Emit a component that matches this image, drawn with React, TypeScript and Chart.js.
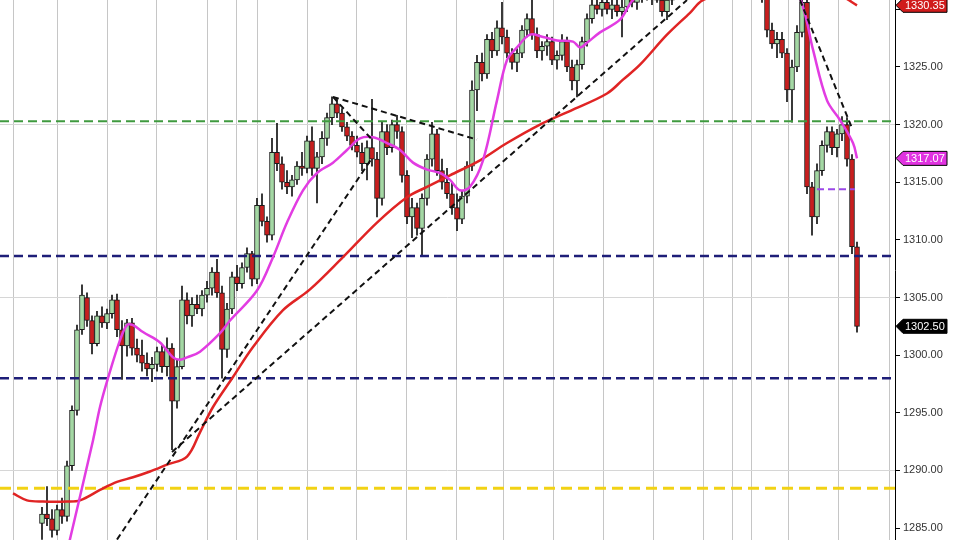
import React, { useEffect, useRef } from "react";
import { Chart, registerables } from "chart.js";

Chart.register(...registerables);

// ---- price candles (index = bar number) ----
const opens = [
  1285.4, 1286.2, 1285.8, 1284.8, 1286.6, 1286.0, 1290.4, 1295.2, 1302.2, 1305.0,
  1303.0, 1301.0, 1303.4, 1302.8, 1303.6, 1304.8, 1302.2, 1300.8, 1302.8, 1300.6,
  1300.0, 1299.3, 1298.8, 1299.2, 1300.3, 1299.0, 1300.6, 1296.0, 1299.0, 1304.8,
  1303.4, 1304.4, 1304.0, 1305.2, 1305.8, 1307.2, 1305.4, 1300.5, 1304.0, 1306.8,
  1306.2, 1307.6, 1308.8, 1306.6, 1313.0, 1311.6, 1310.4, 1317.6, 1316.6, 1315.0,
  1314.6, 1315.2, 1316.4, 1316.2, 1318.6, 1316.2, 1317.2, 1318.8, 1320.6, 1321.8,
  1321.0, 1319.8, 1319.0, 1318.2, 1317.6, 1316.6, 1318.0, 1317.0, 1313.6, 1319.4,
  1318.0, 1320.0, 1319.4, 1315.6, 1312.0, 1312.8, 1311.0, 1313.6, 1317.0, 1319.2,
  1316.0, 1315.0, 1314.0, 1312.8, 1311.8, 1313.8, 1316.4, 1323.0, 1325.4, 1324.4,
  1327.4, 1326.4, 1328.4, 1327.6, 1326.2, 1325.4, 1326.2, 1328.2, 1329.2, 1327.8,
  1326.4, 1326.8, 1327.2, 1325.6, 1326.0, 1327.2, 1325.0, 1323.8, 1325.2, 1327.2,
  1329.2, 1330.4, 1330.0, 1330.6, 1330.0, 1330.4, 1329.8, 1330.2, 1331.2, 1330.6,
  1331.2, 1331.6, 1331.0, 1331.4, 1330.8, 1329.8, 1330.8, 1332.0, 1332.6, 1332.2,
  1333.2, 1333.8, 1333.4, 1334.4, 1334.8, 1334.2, 1334.6, 1335.0, 1334.6, 1334.0,
  1333.2, 1332.6, 1332.0, 1332.4, 1331.8, 1331.0, 1328.2, 1327.0, 1327.4, 1326.2,
  1323.0, 1325.0, 1328.0, 1330.6, 1314.6, 1312.0, 1316.0, 1318.2, 1319.4, 1318.0,
  1319.2, 1320.0, 1317.0, 1309.4,
];
const highs = [
  1286.8, 1288.6, 1286.6, 1287.0, 1287.6, 1290.8, 1295.6, 1302.6, 1306.1, 1305.4,
  1303.4, 1303.8, 1304.2, 1304.0, 1305.2, 1305.3, 1303.0, 1303.1, 1303.2, 1301.4,
  1301.3, 1300.2, 1299.8, 1300.7, 1300.9, 1301.5, 1301.0, 1299.6, 1306.0, 1305.4,
  1305.0, 1305.2, 1305.6, 1306.4, 1307.6, 1308.3, 1306.0, 1304.5, 1307.2, 1307.8,
  1308.0, 1309.3, 1309.0, 1313.6, 1314.0, 1312.0, 1318.8, 1320.1, 1317.2, 1316.0,
  1315.6, 1316.8, 1317.6, 1319.0, 1319.8, 1317.6, 1319.4, 1321.0, 1322.4, 1322.3,
  1321.4, 1320.2, 1319.4, 1319.0, 1318.4, 1318.6, 1322.2, 1317.6, 1320.2, 1320.0,
  1320.4, 1320.8, 1319.8, 1316.0, 1313.6, 1313.2, 1314.0, 1317.4, 1320.2, 1319.6,
  1317.0, 1316.2, 1315.0, 1314.0, 1314.2, 1316.8, 1323.8, 1326.0, 1326.2, 1327.8,
  1328.0, 1329.0, 1330.6, 1328.2, 1326.6, 1326.6, 1328.6, 1329.6, 1330.8, 1328.4,
  1327.2, 1327.8, 1327.6, 1326.4, 1327.8, 1327.6, 1325.6, 1325.6, 1327.6, 1329.6,
  1330.9, 1331.2, 1331.0, 1331.4, 1331.0, 1331.2, 1330.8, 1331.6, 1332.0, 1331.6,
  1332.0, 1332.2, 1331.8, 1332.0, 1331.4, 1331.2, 1332.4, 1333.0, 1333.4, 1333.6,
  1334.2, 1334.4, 1334.8, 1335.2, 1335.4, 1335.0, 1335.6, 1335.8, 1335.2, 1334.6,
  1334.0, 1333.4, 1332.8, 1333.0, 1332.6, 1331.4, 1328.8, 1328.0, 1328.0, 1326.6,
  1325.6, 1328.6, 1331.2, 1331.0, 1315.0, 1316.6, 1318.6, 1319.8, 1319.8, 1319.6,
  1320.7, 1320.6, 1317.4, 1309.8,
];
const lows = [
  1284.0, 1285.2, 1284.2, 1284.4, 1285.4, 1285.6, 1290.0, 1294.8, 1301.8, 1302.5,
  1300.1, 1300.8, 1302.4, 1302.3, 1303.2, 1301.6, 1297.9, 1299.9, 1300.0, 1299.4,
  1298.6, 1298.2, 1297.7, 1298.6, 1298.5, 1298.2, 1291.8, 1295.4, 1298.8, 1302.7,
  1302.5, 1303.6, 1303.4, 1304.6, 1305.2, 1305.0, 1298.0, 1299.8, 1303.6, 1305.6,
  1305.8, 1307.2, 1306.0, 1306.2, 1311.2, 1309.8, 1310.0, 1316.0, 1314.4, 1314.0,
  1313.8, 1314.8, 1315.6, 1315.8, 1315.6, 1313.2, 1316.6, 1318.2, 1320.0, 1320.6,
  1319.4, 1318.6, 1317.8, 1317.2, 1316.0, 1315.2, 1316.4, 1312.0, 1313.0, 1317.4,
  1317.6, 1318.8, 1315.0, 1311.4, 1310.2, 1310.4, 1308.6, 1313.0, 1316.4, 1315.6,
  1314.4, 1313.6, 1312.2, 1310.8, 1311.4, 1313.2, 1316.0, 1321.2, 1323.8, 1324.0,
  1325.8, 1326.0, 1327.0, 1325.8, 1324.8, 1324.6, 1325.8, 1327.6, 1327.4, 1325.8,
  1325.6, 1326.0, 1325.2, 1324.8, 1325.6, 1324.6, 1323.0, 1322.4, 1324.8, 1326.8,
  1328.8, 1329.6, 1329.4, 1329.6, 1329.2, 1329.4, 1327.6, 1329.8, 1330.2, 1330.0,
  1330.6, 1330.8, 1330.4, 1330.6, 1329.4, 1329.1, 1330.4, 1331.4, 1332.0, 1331.8,
  1332.8, 1333.0, 1333.0, 1333.8, 1334.0, 1333.6, 1334.0, 1334.2, 1333.6, 1332.8,
  1332.2, 1331.6, 1331.4, 1331.6, 1330.6, 1327.6, 1326.6, 1325.8, 1325.8, 1322.0,
  1320.2, 1324.6, 1327.6, 1314.0, 1310.4, 1311.4, 1315.6, 1317.6, 1317.4, 1317.2,
  1318.6, 1316.4, 1308.8, 1302.0,
];
const closes = [
  1286.2, 1285.8, 1284.8, 1286.6, 1286.0, 1290.4, 1295.2, 1302.2, 1305.2, 1303.0,
  1301.0, 1303.4, 1302.8, 1303.6, 1304.8, 1302.2, 1300.8, 1302.8, 1300.6, 1300.0,
  1299.3, 1298.8, 1299.2, 1300.3, 1299.0, 1300.6, 1296.0, 1299.0, 1304.8, 1303.4,
  1304.4, 1304.0, 1305.2, 1305.8, 1307.2, 1305.4, 1300.5, 1304.0, 1306.8, 1306.2,
  1307.6, 1308.8, 1306.6, 1313.0, 1311.6, 1310.4, 1317.6, 1316.6, 1315.0, 1314.6,
  1315.2, 1316.4, 1316.2, 1318.6, 1316.2, 1317.2, 1318.8, 1320.6, 1321.8, 1321.0,
  1319.8, 1319.0, 1318.2, 1317.6, 1316.6, 1318.0, 1317.0, 1313.6, 1319.4, 1318.0,
  1320.0, 1319.4, 1315.6, 1312.0, 1312.8, 1311.0, 1313.6, 1317.0, 1319.2, 1316.0,
  1315.0, 1314.0, 1312.8, 1311.8, 1313.8, 1316.4, 1323.0, 1325.4, 1324.4, 1327.4,
  1326.4, 1328.4, 1327.6, 1326.2, 1325.4, 1326.2, 1328.2, 1329.2, 1327.8, 1326.4,
  1326.8, 1327.2, 1325.6, 1326.0, 1327.2, 1325.0, 1323.8, 1325.2, 1327.2, 1329.2,
  1330.4, 1330.0, 1330.6, 1330.0, 1330.4, 1329.8, 1330.2, 1331.2, 1330.6, 1331.2,
  1331.6, 1331.0, 1331.4, 1330.8, 1329.8, 1330.8, 1332.0, 1332.6, 1332.2, 1333.2,
  1333.8, 1333.4, 1334.4, 1334.8, 1334.2, 1334.6, 1335.0, 1334.6, 1334.0, 1333.2,
  1332.6, 1332.0, 1332.4, 1331.8, 1331.0, 1328.2, 1327.0, 1327.4, 1326.2, 1323.0,
  1325.0, 1328.0, 1330.6, 1314.6, 1312.0, 1316.0, 1318.2, 1319.4, 1318.0, 1319.2,
  1320.0, 1317.0, 1309.4, 1302.5,
];

// ---- fast moving average (magenta) ----
const fastMaX = [5.2, 10.2, 11.6, 13.2, 15.6, 17, 18.2, 20.2, 23.6, 26.2, 27.6, 29, 31.6, 35.6, 37.6, 43, 46.2, 49, 52.2, 55, 58.2, 61, 63.6, 66.2, 69, 71.6, 74.2, 77, 79.6, 81.6, 83.6, 85.6, 88.2, 91, 93, 95, 97.6, 100.2, 103, 106.2, 107.6, 109, 111.6, 115.6, 118.2, 123.6, 131.6, 141.6, 149.6, 152.2, 154.2, 157, 159.6, 162.2, 163];
const fastMaY = [1283.3, 1292.6, 1295.5, 1298.0, 1301.3, 1302.6, 1302.6, 1302.0, 1301.1, 1299.8, 1299.6, 1299.8, 1300.3, 1301.9, 1303.0, 1305.6, 1308.5, 1311.5, 1314.3, 1315.8, 1316.7, 1317.8, 1318.8, 1318.9, 1318.4, 1317.8, 1316.7, 1316.1, 1315.8, 1315.2, 1314.3, 1314.6, 1316.9, 1322.1, 1325.6, 1326.7, 1327.8, 1327.6, 1327.3, 1327.2, 1326.7, 1327.1, 1328.0, 1329.1, 1330.8, 1332.5, 1334.3, 1334.3, 1332.5, 1330.2, 1326.5, 1322.1, 1320.4, 1318.4, 1317.07];

// ---- slow moving average (red) ----
const slowMaX = [-5.8, -3, 0.2, 5, 7.6, 11.6, 15, 18.2, 21.6, 25, 29, 31.6, 34.2, 38.2, 42.2, 48.2, 53.6, 60.2, 67, 73, 77, 81.6, 87.6, 93, 99.6, 106.2, 113, 116.2, 119.6, 125, 129.6, 132.2, 141.6, 151.6, 159.6, 163];
const slowMaY = [1288.0, 1287.4, 1287.3, 1287.3, 1287.4, 1288.3, 1289.0, 1289.4, 1289.9, 1290.5, 1291.2, 1293.3, 1295.5, 1298.1, 1300.7, 1303.9, 1305.7, 1308.5, 1311.5, 1313.7, 1314.6, 1315.6, 1316.9, 1318.4, 1320.0, 1321.3, 1322.7, 1323.9, 1325.2, 1327.8, 1329.7, 1330.8, 1332.1, 1332.1, 1331.2, 1330.35];

// ---- drawn trendlines: [x1, y1, x2, y2] ----
const trendLines = [
  [58.2, 1322.4, 87, 1318.7],
  [58.2, 1322.4, 66, 1318.7],
  [15, 1284.0, 66, 1317.1],
  [26, 1291.6, 129, 1330.8],
  [151.6, 1330.8, 162, 1319.7],
];

// ---- horizontal levels ----
const levelValues = [1320.3, 1308.6, 1298.0, 1288.45];
const levelColors = ["#3f9a3f", "#1e1e78", "#1e1e78", "#f2d214"];
const levelWidths = [2, 2.5, 2.5, 3];
const shortLevel = [155, 162.6, 1314.4];

// ---- price tags ----
const tagValues = [1330.35, 1317.07, 1302.5];
const tagBg = ["#d01c1c", "#e032e0", "#000000"];

const yTicks = [1285, 1290, 1295, 1300, 1305, 1310, 1315, 1320, 1325, 1330];
const yGridValues = [1290, 1305, 1320];
const xGrid = [-5.8, 3, 13, 23, 33, 38.8, 43, 53, 62.8, 72.8, 82.8, 92.2, 102.2, 112.2, 122.2, 132.2, 138, 141.8, 149.2, 159.2, 169.4];

const X_MIN = -8.4;
const X_MAX = 170.6;
const Y_MIN = 1283.96;
const Y_MAX = 1330.81;

const FONT = 'Arial, "Liberation Sans", sans-serif';

const tagPlugin = {
  id: "priceTags",
  afterDraw(chart: any) {
    const ys = chart.scales.y;
    const ctx = chart.ctx;
    const x0 = ys.left + 1;
    tagValues.forEach((v, i) => {
      const py = ys.getPixelForValue(v);
      const h = 14;
      const w = 51;
      const tip = 7;
      ctx.save();
      ctx.beginPath();
      ctx.moveTo(x0, py);
      ctx.lineTo(x0 + tip, py - h / 2);
      ctx.lineTo(x0 + w, py - h / 2);
      ctx.lineTo(x0 + w, py + h / 2);
      ctx.lineTo(x0 + tip, py + h / 2);
      ctx.closePath();
      ctx.fillStyle = tagBg[i];
      ctx.fill();
      ctx.lineWidth = 1;
      ctx.strokeStyle = "#000";
      ctx.stroke();
      ctx.fillStyle = "#fff";
      ctx.font = `11px ${FONT}`;
      ctx.textBaseline = "middle";
      ctx.textAlign = "left";
      ctx.fillText(v.toFixed(2), x0 + tip + 2, py + 0.5);
      ctx.restore();
    });
  },
};

export default function App() {
  const ref = useRef<HTMLCanvasElement | null>(null);

  useEffect(() => {
    if (!ref.current) return;
    const idx = opens.map((_, i) => i);
    const bodyColors = idx.map((i) => (closes[i] >= opens[i] ? "#a4d8a4" : "#c81e1e"));

    const datasets: any[] = [];
    trendLines.forEach((t) => {
      datasets.push({
        type: "line",
        data: [{ x: t[0], y: t[1] }, { x: t[2], y: t[3] }],
        borderColor: "#111",
        borderWidth: 2,
        borderDash: [6, 4],
        pointRadius: 0,
        order: 0,
      });
    });
    datasets.push({
      type: "line",
      data: fastMaX.map((x, i) => ({ x, y: fastMaY[i] })),
      borderColor: "#e23ce2",
      borderWidth: 2.5,
      pointRadius: 0,
      tension: 0.35,
      order: 1,
    });
    datasets.push({
      type: "line",
      data: slowMaX.map((x, i) => ({ x, y: slowMaY[i] })),
      borderColor: "#e02424",
      borderWidth: 2.5,
      pointRadius: 0,
      tension: 0.35,
      order: 1,
    });
    levelValues.forEach((v, i) => {
      datasets.push({
        type: "line",
        data: [{ x: X_MIN, y: v }, { x: X_MAX, y: v }],
        borderColor: levelColors[i],
        borderWidth: levelWidths[i],
        borderDash: i === 3 ? [11, 6] : [9, 5],
        pointRadius: 0,
        order: 2,
      });
    });
    datasets.push({
      type: "line",
      data: [{ x: shortLevel[0], y: shortLevel[2] }, { x: shortLevel[1], y: shortLevel[2] }],
      borderColor: "#9b48e8",
      borderWidth: 2,
      borderDash: [7, 4],
      pointRadius: 0,
      order: 2,
    });
    datasets.push({
      type: "bar",
      data: idx.map((i) => ({ x: i, y: [opens[i], closes[i]] })),
      backgroundColor: bodyColors,
      borderColor: "#1a1a1a",
      borderWidth: 1,
      borderSkipped: false,
      barThickness: 5,
      minBarLength: 1,
      grouped: false,
      order: 5,
    });
    datasets.push({
      type: "bar",
      data: idx.map((i) => ({ x: i, y: [lows[i], highs[i]] })),
      backgroundColor: "#111",
      borderWidth: 0,
      barThickness: 1,
      grouped: false,
      order: 6,
    });

    const chart = new Chart(ref.current, {
      type: "bar",
      data: { datasets },
      options: {
        animation: false,
        responsive: false,
        devicePixelRatio: 1,
        layout: { padding: 0 },
        plugins: { legend: { display: false }, tooltip: { enabled: false } },
        scales: {
          x: {
            type: "linear",
            min: X_MIN,
            max: X_MAX,
            offset: false,
            afterBuildTicks: (s: any) => {
              s.ticks = xGrid.map((v) => ({ value: v }));
            },
            afterFit: (s: any) => {
              s.height = 0;
              s.paddingLeft = 0;
              s.paddingRight = 0;
            },
            ticks: { display: false },
            grid: { color: "#c6c6c6", lineWidth: 1, drawTicks: false, offset: false },
            border: { display: false },
          },
          y: {
            type: "linear",
            position: "right",
            min: Y_MIN,
            max: Y_MAX,
            afterBuildTicks: (s: any) => {
              s.ticks = yTicks.map((v) => ({ value: v }));
            },
            afterFit: (s: any) => {
              s.width = 65;
              s.paddingTop = 0;
              s.paddingBottom = 0;
            },
            ticks: {
              callback: (v: any) => Number(v).toFixed(2),
              color: "#333",
              font: { size: 11, family: FONT },
              padding: 3,
            },
            grid: {
              color: (c: any) =>
                c.tick && yGridValues.includes(c.tick.value) ? "#d6d6d6" : "rgba(0,0,0,0)",
              tickColor: "#000",
              tickLength: 5,
              lineWidth: 1,
            },
            border: { display: true, color: "#000", width: 1 },
          },
        },
      } as any,
      plugins: [tagPlugin],
    });
    return () => chart.destroy();
  }, []);

  return (
    <div style={{ position: "absolute", left: 0, top: 0, width: 960, height: 540, background: "#fff" }}>
      <canvas ref={ref} width={960} height={540} />
    </div>
  );
}
